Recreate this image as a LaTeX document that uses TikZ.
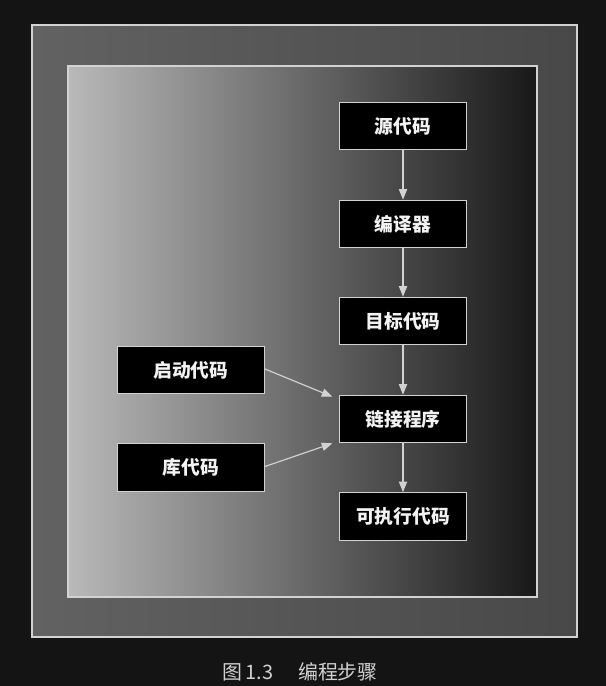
\documentclass[tikz,border=0pt]{standalone}
\usepackage{fontspec}
\newfontfamily\cjk{Noto Sans CJK SC}
\usetikzlibrary{arrows.meta}
\definecolor{pagebg}{RGB}{20,20,20}
\definecolor{framelight}{RGB}{98,98,98}
\definecolor{framedark}{RGB}{72,72,72}
\definecolor{rimgray}{RGB}{210,210,210}
\definecolor{panellight}{RGB}{185,185,185}
\definecolor{panelmid}{RGB}{138,138,138}
\definecolor{paneldark}{RGB}{24,24,24}

\begin{document}
\begin{tikzpicture}[x=0.03cm,y=-0.03cm,
  stepbox/.style={draw=rimgray,line width=1.1pt,fill=black,text=white!90!gray,inner sep=0pt,
    minimum width=3.8cm,minimum height=1.42cm,font=\cjk\bfseries\fontsize{16}{18}\selectfont},
  flow/.style={draw=rimgray,line width=1pt,-{Triangle[length=9pt,width=7pt]}}]
% page and frames
\fill[pagebg] (0,0) rectangle (606,686);
\useasboundingbox (0,0) rectangle (606,686);
\shade[left color=framelight,right color=framedark,draw=rimgray,line width=1.5pt] (32,25) rectangle (577,637);
\shade[left color=panellight,middle color=panelmid,right color=paneldark,draw=rimgray,line width=1.5pt] (68,66) rectangle (537,597);
% steps
\node[stepbox] (src) at (403,126) {源代码};
\node[stepbox] (comp) at (403,224) {编译器};
\node[stepbox] (obj) at (403,321) {目标代码};
\node[stepbox] (link) at (403,419) {链接程序};
\node[stepbox] (exe) at (403,516.5) {可执行代码};
\node[stepbox,minimum width=4.4cm] (start) at (191,370) {启动代码};
\node[stepbox,minimum width=4.4cm] (lib) at (191,467.5) {库代码};
\coordinate (startin) at ([xshift=-0.2cm,yshift=-0.06cm]link.north west);
\coordinate (libin) at ([xshift=-0.2cm]link.south west);
% arrows
\draw[flow] (src) -- (comp);
\draw[flow] (comp) -- (obj);
\draw[flow] (obj) -- (link);
\draw[flow] (link) -- (exe);
\draw[flow] ([yshift=0.03cm]start.east) -- (startin);
\draw[flow] ([yshift=0.03cm]lib.east) -- (libin);
% caption
\node[text=rimgray,font=\cjk\fontsize{17}{19}\selectfont] (cap) at (300,672) {图\,1.3\hspace{0.75cm}编程步骤};
\end{tikzpicture}
\end{document}
